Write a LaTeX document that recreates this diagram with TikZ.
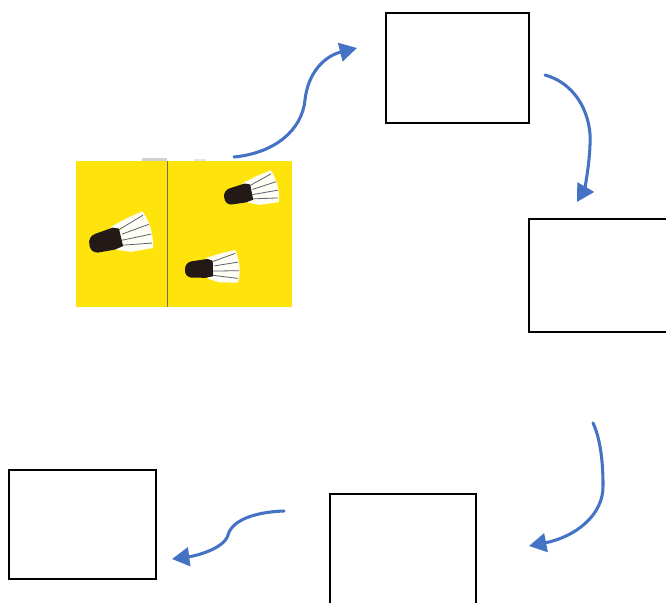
\documentclass[tikz,border=0pt]{standalone}
\usetikzlibrary{arrows.meta}
\definecolor{flowblue}{RGB}{68,114,196}
\definecolor{paper}{RGB}{255,228,12}
\definecolor{inkgrey}{RGB}{95,95,110}
\definecolor{foldline}{RGB}{120,115,70}
\definecolor{tipblack}{RGB}{35,25,22}
\tikzset{
  stepbox/.style={draw=black, line width=1.9pt, fill=white, inner sep=0pt},
  flow/.style={draw=flowblue, line width=2.3pt, line cap=round,
    -{Triangle[length=13pt,width=14pt]}},
  shuttle/.pic={
    % feathered skirt
    \fill[white!96!yellow] (24,-12) -- (42,-18) -- (58,-22)
      .. controls (64,-10) and (65,5) .. (62,16) -- (40,16) -- (27,12) -- cycle;
    \foreach \a/\b/\c/\d in {32/-8/58/-18, 34/-3/62/-8, 33/3/63/2, 33/8/62/11}
      \draw[inkgrey, line width=0.6pt] (\a,\b) -- (\c,\d);
    % cork tip
    \fill[tipblack] (0,2) .. controls (0,-4) and (3,-7) .. (8,-8)
      -- (26,-11) -- (32,-9) -- (33,9) -- (24,11) -- (7,11)
      .. controls (2,10) and (0,7) .. (0,2) -- cycle;
  }
}
\begin{document}
\begin{tikzpicture}[x=0.75pt,y=-0.75pt]
  \useasboundingbox (0,0) rectangle (666,602);
  \clip (0,0) rectangle (666,602);

  % picture panel
  \node[fill=paper, minimum width=162pt, minimum height=109.5pt, inner sep=0pt]
    (photo) at (184,234) {};
  \fill[black!18] (142,158) rectangle (167,161);
  \fill[black!10] (194,159) rectangle (206,161);
  \draw[foldline, line width=0.6pt] (167,161) -- (167,307);
  \pic[rotate=10] at (89,243) {shuttle};
  \pic[rotate=8, scale=0.86] at (224,196) {shuttle};
  \pic[rotate=-1, scale=0.86] at (185,268) {shuttle};

  % boxes
  \node[stepbox, minimum width=107.25pt, minimum height=82.5pt] (boxA) at (457.5,68) {};
  \node[stepbox, minimum width=108pt, minimum height=84.75pt] (boxB) at (601,275.5) {};
  \node[stepbox, minimum width=109.5pt, minimum height=87pt] (boxC) at (403,552) {};
  \node[stepbox, minimum width=110.25pt, minimum height=81.75pt] (boxD) at (82.5,524.5) {};

  % connector end points
  \coordinate (s1) at (234,157);
  \coordinate (e1) at (357,48);
  \coordinate (s2) at (545,75);
  \coordinate (e2) at (577,202);
  \coordinate (s3) at (593,423);
  \coordinate (e3) at (529,546);
  \coordinate (s4) at (284,511);
  \coordinate (e4) at (172,559);

  % connectors
  \draw[flow] (s1) .. controls (275,153) and (302,130) .. (305,100)
    .. controls (308,72) and (325,56) .. (e1);
  \draw[flow] (s2) .. controls (580,85) and (592,120) .. (590,145)
    .. controls (589,170) and (584,190) .. (e2);
  \draw[flow] (s3) .. controls (601,440) and (603,465) .. (603,485)
    .. controls (604,515) and (575,537) .. (e3);
  \draw[flow] (s4) .. controls (255,512) and (232,520) .. (228,535)
    .. controls (224,549) and (195,556) .. (e4);
\end{tikzpicture}
\end{document}
